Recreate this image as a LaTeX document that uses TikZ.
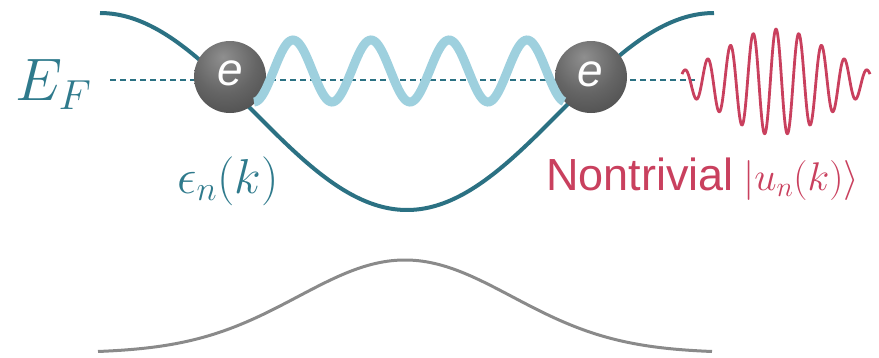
\RequirePackage{fix-cm}
\documentclass[tikz,border=0pt]{standalone}
\usepackage{fontspec}
\newfontfamily\labelsans{Liberation Sans}

\definecolor{bandteal}{HTML}{2B7183}
\definecolor{labelteal}{HTML}{2F7A8C}
\definecolor{phononblue}{HTML}{9ED0DE}
\definecolor{packetred}{HTML}{C9405E}
\definecolor{bandgray}{HTML}{8A8A8A}
\definecolor{ballhi}{HTML}{8F8F8F}
\definecolor{ballmid}{HTML}{656565}
\definecolor{balllo}{HTML}{383838}

% soft grey sphere, lit from slightly above
\pgfdeclareradialshading{electronball}{\pgfpoint{-5bp}{14bp}}{%
  color(0bp)=(ballhi); color(22bp)=(ballmid); color(55bp)=(balllo); color(100bp)=(balllo)}

\begin{document}
\begin{tikzpicture}[x=1pt,y=-1pt,
  band/.style={line width=4pt, color=bandteal},
  lowerband/.style={line width=3pt, color=bandgray},
  fermi/.style={line width=1.1pt, color=bandteal, dash pattern=on 6pt off 4pt},
  electron/.style={circle, minimum size=72pt, inner sep=0pt, shading=electronball},
  etext/.style={inner sep=0pt, text=white, font=\labelsans\itshape\fontsize{46}{46}\selectfont},
  phonon/.style={line width=9pt, color=phononblue},
  packet/.style={line width=2.8pt, color=packetred, line join=round},
  mathlabel/.style={anchor=base west, inner sep=0pt}]
\useasboundingbox (0,0) rectangle (879,357);

% Fermi level
\coordinate (efl) at (110,80);
\coordinate (efr) at (695,80);
\draw[fermi] (efl) -- (efr);

% conduction band (upper) and valence band (lower)
\draw[band] plot[domain=100:714, samples=160, smooth]
  (\x, {13+98.5*(1-cos((\x-100)/307*180))});
\draw[lowerband] plot[domain=98:712, samples=160, smooth]
  (\x, {353-93*exp(-0.5*((\x-405)/107)^2)});

% electrons at the Fermi crossings
\node[electron] (e1) at (230,77) {};
\node[etext] (e1t) at (230,73) {e};
\node[electron] (e2) at (591,77) {};
\node[etext] (e2t) at (590,74) {e};

% phonon-like coupling between the two electrons
\draw[phonon] plot[domain=254:564, samples=200, smooth]
  (\x, {71+31*cos((\x-254)/78*360)});

% wave packet of the Bloch state
\draw[packet] plot[domain=682:870, samples=400, smooth]
  (\x, {82-53*exp(-0.5*((\x-776)/53)^2)*cos((\x-776)/22.8*360)});

% labels
\node[mathlabel, text=labelteal, font=\fontsize{60}{60}\selectfont] (ef) at (15,100) {$E_F$};
\node[mathlabel, text=labelteal, font=\fontsize{49}{49}\selectfont] (eps) at (177,193) {$\epsilon_n(k)$};
\node[mathlabel, text=packetred, font=\labelsans\fontsize{45}{45}\selectfont] (triv) at (546,190)
  {Nontrivial};
\node[mathlabel, text=packetred, font=\fontsize{40}{40}\selectfont] (ket) at (743,190)
  {$\vert u_n(k)\rangle$};
\end{tikzpicture}
\end{document}
